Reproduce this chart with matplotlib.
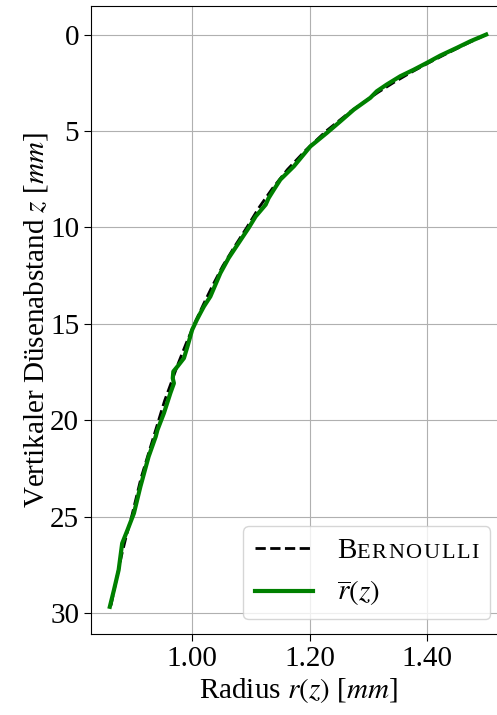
import matplotlib
matplotlib.use("Agg")
import matplotlib.pyplot as plt
from matplotlib.offsetbox import TextArea, HPacker

# Bernoulli-Modell: vertikaler Abstand z [mm] und Radius r [mm]
z_bernoulli = [0, 0.5, 1, 1.5, 2, 2.5, 3, 4, 5, 6, 7, 8, 9, 10, 11, 12, 13, 14,
               15, 16, 17, 18, 19, 20, 21, 22, 23, 24, 25, 26, 27, 28, 29, 29.6]
r_bernoulli = [1.500, 1.465, 1.432, 1.400, 1.370, 1.342, 1.316, 1.269, 1.228,
               1.193, 1.162, 1.136, 1.113, 1.093, 1.072, 1.052, 1.035, 1.019,
               1.004, 0.990, 0.977, 0.965, 0.953, 0.943, 0.933, 0.923, 0.913,
               0.905, 0.897, 0.888, 0.880, 0.873, 0.866, 0.862]

# gemessener mittlerer Radius
z_mess = [0, 0.35, 0.69, 1.09, 1.47, 1.82, 2.16, 2.59, 2.94, 3.28, 3.89, 4.5,
          5.10, 5.80, 6.83, 7.52, 8.04, 8.48, 8.82, 9.43, 10.03, 10.81, 11.59,
          12.37, 13.58, 14.10, 14.44, 14.79, 15.31, 16.18, 16.78, 17.21, 17.47,
          17.82, 18.08, 18.59, 19.63, 20.50, 20.85, 21.88, 23.44, 24.82, 25.69,
          26.38, 27.76, 28.80, 29.67]
r_mess = [1.500, 1.473, 1.450, 1.422, 1.399, 1.377, 1.354, 1.331, 1.314, 1.303,
          1.275, 1.252, 1.229, 1.201, 1.173, 1.150, 1.139, 1.130, 1.125, 1.108,
          1.096, 1.079, 1.062, 1.048, 1.031, 1.020, 1.014, 1.008, 1.000, 0.992,
          0.986, 0.975, 0.968, 0.967, 0.969, 0.963, 0.952, 0.941, 0.938, 0.926,
          0.912, 0.901, 0.890, 0.881, 0.875, 0.867, 0.860]

plt.rcParams['font.family'] = 'serif'
plt.rcParams['font.serif'] = ['Liberation Serif', 'DejaVu Serif']
plt.rcParams['mathtext.fontset'] = 'stix'
plt.rcParams['font.size'] = 21

fig = plt.figure(figsize=(4.97, 7.15), dpi=100)
ax = fig.add_axes([91 / 497, 81 / 715, 414 / 497, 628 / 715])

ax.plot(r_bernoulli, z_bernoulli, color='black', linestyle='--', linewidth=2,
        label='Bernoulli')
ax.plot(r_mess, z_mess, color='green', linewidth=3, label=r'$\overline{r}(z)$')

ax.set_xlim(0.828, 1.532)
ax.set_ylim(31.08, -1.48)
ax.set_xticks([1.0, 1.2, 1.4])
ax.set_xticklabels(['1.00', '1.20', '1.40'])
ax.set_yticks([0, 5, 10, 15, 20, 25, 30])
ax.tick_params(length=5)
ax.grid(True)

ax.set_xlabel(r'Radius $r(z)$ [$mm$]', labelpad=3)
ax.set_ylabel(r'Vertikaler Düsenabstand $z$ [$mm$]', labelpad=0)

leg = ax.legend(loc='lower right', fontsize=21)
# Kapitälchen für "Bernoulli"
row = leg._legend_handle_box.get_children()[0].get_children()[0]
kleine = [TextArea(c, textprops=dict(fontsize=16)) for c in 'ERNOULLI']
sc = HPacker(children=[TextArea('B', textprops=dict(fontsize=21)),
                       HPacker(children=kleine, align='baseline', pad=0, sep=1.2)],
             align='baseline', pad=0, sep=0)
sc.set_figure(fig)
row._children[1] = sc

fig.savefig('out.png', dpi=100)
